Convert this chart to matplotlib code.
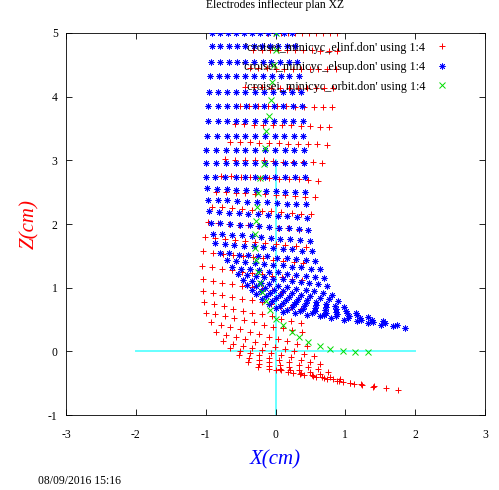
import matplotlib.pyplot as plt

plt.rcParams["font.family"] = ["Liberation Serif", "DejaVu Serif"]
plt.rcParams["axes.unicode_minus"] = False

# blue electrode (elsup): straight rows at the top, one z per row
BLUE_TOP_Z = [5.00, 4.79, 4.55, 4.32, 4.08, 3.85, 3.61, 3.38, 3.17, 2.96, 2.74]
BLUE_TOP_X = [
    [-0.91, -0.80, -0.68, -0.57, -0.45, -0.34, -0.22, -0.11, 0.01, 0.12, 0.24],
    [-0.91, -0.79, -0.67, -0.55, -0.43, -0.31, -0.20, -0.08, 0.04, 0.16, 0.28],
    [-0.92, -0.80, -0.67, -0.55, -0.43, -0.31, -0.18, -0.06, 0.06, 0.19, 0.31],
    [-0.94, -0.81, -0.69, -0.56, -0.43, -0.31, -0.18, -0.05, 0.08, 0.20, 0.33],
    [-0.95, -0.82, -0.69, -0.56, -0.43, -0.30, -0.16, -0.03, 0.10, 0.23, 0.36],
    [-0.96, -0.83, -0.69, -0.56, -0.42, -0.29, -0.16, -0.02, 0.11, 0.25, 0.38],
    [-0.97, -0.83, -0.70, -0.56, -0.43, -0.29, -0.15, -0.02, 0.12, 0.25, 0.39],
    [-0.98, -0.84, -0.70, -0.57, -0.43, -0.29, -0.15, -0.01, 0.12, 0.26, 0.40],
    [-0.99, -0.85, -0.71, -0.57, -0.43, -0.29, -0.15, -0.01, 0.13, 0.27, 0.41],
    [-0.99, -0.85, -0.71, -0.57, -0.43, -0.29, -0.15, -0.01, 0.13, 0.27, 0.41],
    [-1.00, -0.86, -0.72, -0.57, -0.43, -0.29, -0.15, -0.01, 0.14, 0.28, 0.42],
]

# blue electrode: tilted rows of the bend and tail
BLUE_FAN_X = [
    [-0.98, -0.84, -0.70, -0.56, -0.42, -0.28, -0.14, 0.00, 0.14, 0.28, 0.42],
    [-0.97, -0.83, -0.69, -0.55, -0.41, -0.27, -0.12, 0.02, 0.16, 0.30, 0.44],
    [-0.95, -0.81, -0.67, -0.53, -0.39, -0.25, -0.11, 0.03, 0.17, 0.31, 0.45],
    [-0.93, -0.79, -0.65, -0.51, -0.37, -0.23, -0.09, 0.05, 0.19, 0.33, 0.47],
    [-0.90, -0.76, -0.62, -0.48, -0.34, -0.21, -0.07, 0.07, 0.21, 0.35, 0.49],
    [-0.87, -0.73, -0.59, -0.45, -0.31, -0.18, -0.04, 0.10, 0.24, 0.38, 0.52],
    [-0.80, -0.66, -0.53, -0.39, -0.25, -0.12, 0.02, 0.16, 0.30, 0.43, 0.57],
    [-0.70, -0.57, -0.43, -0.30, -0.16, -0.03, 0.10, 0.24, 0.37, 0.51, 0.64],
    [-0.62, -0.49, -0.36, -0.23, -0.10, 0.04, 0.17, 0.30, 0.43, 0.56, 0.69],
    [-0.54, -0.41, -0.28, -0.16, -0.03, 0.10, 0.23, 0.36, 0.48, 0.61, 0.74],
    [-0.47, -0.34, -0.21, -0.09, 0.04, 0.17, 0.30, 0.43, 0.55, 0.68, 0.81],
    [-0.41, -0.28, -0.15, -0.02, 0.11, 0.24, 0.37, 0.50, 0.63, 0.76, 0.89],
    [-0.34, -0.21, -0.08, 0.06, 0.19, 0.32, 0.45, 0.58, 0.72, 0.85, 0.98],
    [-0.28, -0.14, 0.01, 0.15, 0.29, 0.44, 0.58, 0.72, 0.86, 1.01, 1.15],
    [-0.20, -0.05, 0.10, 0.26, 0.41, 0.56, 0.71, 0.86, 1.02, 1.17, 1.32],
    [-0.10, 0.06, 0.23, 0.39, 0.56, 0.72, 0.88, 1.05, 1.21, 1.38, 1.54],
    [0.00, 0.17, 0.35, 0.52, 0.70, 0.87, 1.04, 1.22, 1.39, 1.57, 1.74],
    [0.10, 0.28, 0.45, 0.63, 0.80, 0.98, 1.16, 1.33, 1.51, 1.68, 1.86],
]
BLUE_FAN_Z = [
    [2.56, 2.55, 2.55, 2.54, 2.54, 2.53, 2.52, 2.52, 2.51, 2.51, 2.50],
    [2.38, 2.37, 2.37, 2.36, 2.35, 2.35, 2.34, 2.33, 2.32, 2.32, 2.31],
    [2.20, 2.19, 2.18, 2.17, 2.16, 2.15, 2.14, 2.13, 2.12, 2.11, 2.10],
    [2.02, 2.01, 2.00, 1.99, 1.98, 1.97, 1.95, 1.94, 1.93, 1.92, 1.91],
    [1.85, 1.84, 1.83, 1.82, 1.81, 1.80, 1.78, 1.77, 1.76, 1.75, 1.74],
    [1.70, 1.69, 1.67, 1.66, 1.65, 1.64, 1.62, 1.61, 1.60, 1.58, 1.57],
    [1.55, 1.54, 1.52, 1.51, 1.50, 1.49, 1.47, 1.46, 1.45, 1.43, 1.42],
    [1.43, 1.42, 1.40, 1.39, 1.37, 1.36, 1.35, 1.33, 1.32, 1.30, 1.29],
    [1.32, 1.30, 1.29, 1.27, 1.25, 1.24, 1.22, 1.20, 1.18, 1.17, 1.15],
    [1.22, 1.20, 1.18, 1.16, 1.14, 1.13, 1.11, 1.09, 1.07, 1.05, 1.03],
    [1.12, 1.10, 1.07, 1.05, 1.03, 1.01, 0.98, 0.96, 0.94, 0.91, 0.89],
    [1.04, 1.02, 0.99, 0.97, 0.94, 0.92, 0.89, 0.87, 0.84, 0.82, 0.79],
    [0.97, 0.94, 0.91, 0.89, 0.86, 0.83, 0.80, 0.77, 0.75, 0.72, 0.69],
    [0.90, 0.87, 0.84, 0.81, 0.78, 0.76, 0.73, 0.70, 0.67, 0.64, 0.61],
    [0.82, 0.79, 0.76, 0.74, 0.71, 0.68, 0.65, 0.62, 0.60, 0.57, 0.54],
    [0.75, 0.72, 0.69, 0.67, 0.64, 0.61, 0.58, 0.55, 0.53, 0.50, 0.47],
    [0.68, 0.65, 0.63, 0.60, 0.57, 0.55, 0.52, 0.49, 0.46, 0.44, 0.41],
    [0.62, 0.60, 0.57, 0.55, 0.52, 0.50, 0.47, 0.45, 0.42, 0.40, 0.37],
]

# red electrode (elinf)
RED_X = [
    [-0.12, -0.02, 0.08, 0.18, 0.28, 0.38, 0.48, 0.58, 0.68, 0.78, 0.88],
    [-0.32, -0.20, -0.08, 0.04, 0.16, 0.28, 0.40, 0.52, 0.64, 0.76, 0.88],
    [-0.37, -0.25, -0.12, 0.00, 0.12, 0.25, 0.37, 0.49, 0.61, 0.74, 0.86],
    [-0.44, -0.31, -0.19, -0.06, 0.07, 0.20, 0.32, 0.45, 0.58, 0.70, 0.83],
    [-0.51, -0.38, -0.25, -0.11, 0.02, 0.15, 0.28, 0.41, 0.55, 0.68, 0.81],
    [-0.58, -0.45, -0.31, -0.18, -0.04, 0.09, 0.22, 0.36, 0.49, 0.63, 0.76],
    [-0.65, -0.51, -0.37, -0.23, -0.09, 0.05, 0.18, 0.32, 0.46, 0.60, 0.74],
    [-0.72, -0.58, -0.44, -0.30, -0.16, -0.03, 0.11, 0.25, 0.39, 0.53, 0.67],
    [-0.78, -0.64, -0.50, -0.36, -0.22, -0.09, 0.05, 0.19, 0.33, 0.47, 0.61],
    [-0.85, -0.71, -0.57, -0.43, -0.29, -0.15, 0.00, 0.14, 0.28, 0.42, 0.56],
    [-0.91, -0.77, -0.63, -0.48, -0.34, -0.20, -0.06, 0.08, 0.23, 0.37, 0.51],
    [-0.96, -0.82, -0.67, -0.53, -0.39, -0.25, -0.10, 0.04, 0.18, 0.33, 0.47],
    [-1.01, -0.87, -0.72, -0.58, -0.43, -0.29, -0.15, 0.00, 0.14, 0.29, 0.43],
    [-1.04, -0.90, -0.75, -0.61, -0.46, -0.32, -0.18, -0.03, 0.11, 0.26, 0.40],
    [-1.05, -0.91, -0.76, -0.62, -0.48, -0.34, -0.19, -0.05, 0.09, 0.24, 0.38],
    [-1.04, -0.90, -0.76, -0.62, -0.48, -0.34, -0.19, -0.05, 0.09, 0.23, 0.37],
    [-1.04, -0.90, -0.76, -0.62, -0.48, -0.34, -0.20, -0.06, 0.08, 0.22, 0.36],
    [-1.02, -0.88, -0.74, -0.61, -0.47, -0.33, -0.19, -0.05, 0.08, 0.22, 0.36],
    [-1.00, -0.86, -0.72, -0.59, -0.45, -0.31, -0.17, -0.03, 0.10, 0.24, 0.38],
    [-0.92, -0.78, -0.65, -0.51, -0.37, -0.24, -0.10, 0.04, 0.17, 0.31, 0.45],
    [-0.85, -0.71, -0.57, -0.43, -0.29, -0.15, -0.01, 0.13, 0.27, 0.41, 0.55],
    [-0.75, -0.61, -0.47, -0.33, -0.19, -0.06, 0.08, 0.22, 0.36, 0.50, 0.64],
    [-0.65, -0.51, -0.37, -0.23, -0.09, 0.05, 0.19, 0.33, 0.47, 0.61, 0.75],
    [-0.52, -0.38, -0.23, -0.09, 0.06, 0.20, 0.34, 0.49, 0.63, 0.78, 0.92],
    [-0.39, -0.24, -0.09, 0.06, 0.21, 0.37, 0.52, 0.67, 0.82, 0.97, 1.12],
    [-0.25, -0.09, 0.08, 0.25, 0.41, 0.58, 0.74, 0.91, 1.07, 1.24, 1.40],
    [0.00, 0.18, 0.35, 0.53, 0.70, 0.88, 1.06, 1.23, 1.41, 1.58, 1.76],
]
RED_Z = [
    [5.00, 5.00, 5.00, 5.00, 5.00, 5.00, 5.00, 5.00, 5.00, 5.00, 5.00],
    [4.74, 4.74, 4.74, 4.73, 4.73, 4.73, 4.73, 4.73, 4.72, 4.72, 4.72],
    [4.45, 4.45, 4.45, 4.44, 4.44, 4.44, 4.44, 4.44, 4.43, 4.43, 4.43],
    [4.15, 4.15, 4.15, 4.14, 4.14, 4.14, 4.14, 4.14, 4.13, 4.13, 4.13],
    [3.86, 3.86, 3.85, 3.85, 3.85, 3.85, 3.84, 3.84, 3.84, 3.83, 3.83],
    [3.57, 3.57, 3.56, 3.56, 3.55, 3.55, 3.55, 3.54, 3.54, 3.53, 3.53],
    [3.29, 3.28, 3.28, 3.27, 3.27, 3.27, 3.26, 3.26, 3.25, 3.25, 3.24],
    [3.02, 3.01, 3.01, 3.00, 3.00, 2.99, 2.98, 2.98, 2.97, 2.97, 2.96],
    [2.76, 2.75, 2.74, 2.74, 2.73, 2.72, 2.71, 2.70, 2.70, 2.69, 2.68],
    [2.51, 2.50, 2.49, 2.48, 2.47, 2.47, 2.46, 2.45, 2.44, 2.43, 2.42],
    [2.27, 2.26, 2.25, 2.23, 2.22, 2.21, 2.20, 2.19, 2.17, 2.16, 2.15],
    [2.03, 2.02, 2.00, 1.99, 1.98, 1.97, 1.95, 1.94, 1.93, 1.91, 1.90],
    [1.80, 1.78, 1.77, 1.75, 1.74, 1.72, 1.70, 1.69, 1.67, 1.66, 1.64],
    [1.57, 1.55, 1.53, 1.51, 1.49, 1.48, 1.46, 1.44, 1.42, 1.40, 1.38],
    [1.34, 1.32, 1.30, 1.27, 1.25, 1.23, 1.21, 1.19, 1.16, 1.14, 1.12],
    [1.13, 1.11, 1.08, 1.06, 1.03, 1.01, 0.98, 0.96, 0.93, 0.91, 0.88],
    [0.94, 0.91, 0.88, 0.86, 0.83, 0.80, 0.77, 0.74, 0.72, 0.69, 0.66],
    [0.77, 0.74, 0.71, 0.67, 0.64, 0.61, 0.58, 0.55, 0.51, 0.48, 0.45],
    [0.61, 0.58, 0.55, 0.52, 0.49, 0.46, 0.42, 0.39, 0.36, 0.33, 0.30],
    [0.46, 0.42, 0.38, 0.35, 0.31, 0.27, 0.23, 0.19, 0.16, 0.12, 0.08],
    [0.30, 0.26, 0.22, 0.19, 0.15, 0.11, 0.07, 0.03, 0.00, -0.04, -0.08],
    [0.16, 0.12, 0.09, 0.05, 0.02, -0.02, -0.06, -0.09, -0.13, -0.16, -0.20],
    [0.05, 0.01, -0.02, -0.06, -0.10, -0.14, -0.17, -0.21, -0.25, -0.28, -0.32],
    [-0.06, -0.10, -0.14, -0.17, -0.21, -0.25, -0.29, -0.33, -0.36, -0.40, -0.44],
    [-0.16, -0.20, -0.23, -0.27, -0.30, -0.34, -0.37, -0.41, -0.44, -0.48, -0.51],
    [-0.24, -0.27, -0.30, -0.34, -0.37, -0.40, -0.43, -0.46, -0.50, -0.53, -0.56],
    [-0.30, -0.33, -0.36, -0.39, -0.42, -0.46, -0.49, -0.52, -0.55, -0.58, -0.61],
]

# central orbit
ORBIT_X = [0.00, 0.00, -0.02, -0.05, -0.07, -0.10, -0.13, -0.15, -0.17, -0.22,
           -0.25, -0.27, -0.28, -0.29, -0.29, -0.28, -0.25, -0.22, -0.20, -0.13,
           -0.08, 0.01, 0.11, 0.23, 0.34, 0.47, 0.63, 0.78, 0.96, 1.14, 1.33]
ORBIT_Z = [5.00, 4.74, 4.49, 4.23, 3.95, 3.69, 3.46, 3.20, 2.95, 2.73,
           2.49, 2.26, 2.05, 1.84, 1.63, 1.44, 1.25, 1.08, 0.93, 0.79,
           0.65, 0.51, 0.41, 0.31, 0.22, 0.14, 0.09, 0.04, 0.00, -0.01, -0.01]

LABELS = ["'croisei_minicyc_elinf.don' using 1:4",
          "'croisei_minicyc_elsup.don' using 1:4",
          "'croisei_minicyc_orbit.don' using 1:4"]

# flatten the meshes
blue_x, blue_z = [], []
for z, row in zip(BLUE_TOP_Z, BLUE_TOP_X):
    blue_x += row
    blue_z += [z] * len(row)
for xr, zr in zip(BLUE_FAN_X, BLUE_FAN_Z):
    blue_x += xr
    blue_z += zr
red_x = [v for row in RED_X for v in row]
red_z = [v for row in RED_Z for v in row]

fig = plt.figure(figsize=(4.99, 4.90), dpi=100)
ax = fig.add_axes([0.1323, 0.153, 0.8397, 0.7797])

# reference lines
ax.plot([-2, 2], [0, 0], color="#66ffff", lw=1.4, zorder=1)
ax.plot([0, 0], [-1, 3], color="#66ffff", lw=1.4, zorder=1)

ax.plot(red_x, red_z, ls="none", marker="+", ms=5, mew=0.7, color="red",
        label=LABELS[0], zorder=2)
ax.plot(blue_x, blue_z, ls="none", marker=(8, 2, 0), ms=4.3, mew=0.6,
        color="blue", label=LABELS[1], zorder=3)
ax.plot(ORBIT_X, ORBIT_Z, ls="none", marker="x", ms=4.5, mew=0.7,
        color="#00dd00", label=LABELS[2], zorder=4)

ax.set_xlim(-3, 3)
ax.set_ylim(-1, 5)
ax.set_xticks(range(-3, 4))
ax.set_yticks(range(-1, 6))
ax.tick_params(direction="in", top=True, right=True, length=4.5, width=0.6,
               labelsize=8.4)
ax.tick_params(axis="x", pad=10)
ax.tick_params(axis="y", pad=6)
for s in ax.spines.values():
    s.set_linewidth(0.6)

ax.set_xlabel("X(cm)", color="blue", fontsize=15, style="italic", labelpad=7)
ax.set_ylabel("Z(cm)", color="red", fontsize=15, style="italic", labelpad=6)

leg = ax.legend(loc="upper right", bbox_to_anchor=(0.944, 1.006), frameon=False,
                markerfirst=False, fontsize=8.7, handlelength=1.5,
                labelspacing=0.62, handletextpad=0.6)

fig.text(0.551, 1 - 8 / 490, "Electrodes inflecteur plan XZ", ha="center",
         va="baseline", fontsize=8.4)
fig.text(38 / 499, 1 - 484 / 490, "08/09/2016 15:16", ha="left",
         va="baseline", fontsize=8.4)

fig.savefig("out.png", dpi=100)
